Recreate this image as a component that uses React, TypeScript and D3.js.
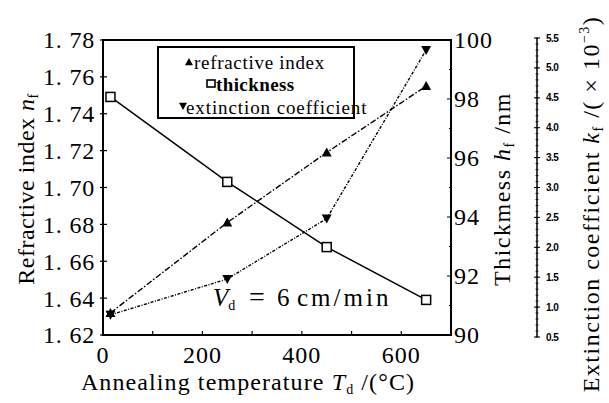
import React from 'react';
import * as d3 from 'd3';

// annealing temperatures (°C)
const temps = [15, 250, 450, 650];
// refractive index n_f
const refractive = [1.632, 1.681, 1.719, 1.755];
// thickness h_f (nm)
const thickness = [98.07, 95.19, 92.98, 91.19];
// extinction coefficient k_f (x10^-3)
const extinction = [0.87, 1.47, 2.48, 5.3];

const xTicks = [0, 200, 400, 600];
const xMinor = [0, 100, 200, 300, 400, 500, 600];
const leftTicks = [1.62, 1.64, 1.66, 1.68, 1.7, 1.72, 1.74, 1.76, 1.78];
const rightTicks = [90, 92, 94, 96, 98, 100];
const extTicks = [0.5, 1.0, 1.5, 2.0, 2.5, 3.0, 3.5, 4.0, 4.5, 5.0, 5.5];

const legendItems = ['refractive index', 'thickness', 'extinction coefficient'];

const serif = { fontFamily: 'Liberation Serif' };
const sans = { fontFamily: 'Liberation Sans' };

const App = () => {
  const width = 609;
  const height = 403;
  const plot = { left: 103, right: 451, top: 40, bottom: 335 };

  const x = d3.scaleLinear().domain([0, 700]).range([plot.left, plot.right]);
  const yL = d3.scaleLinear().domain([1.62, 1.78]).range([plot.bottom, plot.top]);
  const yR = d3.scaleLinear().domain([90, 100]).range([plot.bottom, plot.top]);
  const extX = 537;
  const yE = d3.scaleLinear().domain([0.5, 5.5]).range([337, 38]);

  const lineOf = (vals: number[], y: d3.ScaleLinear<number, number>) =>
    d3.line<number>().x((_, i) => x(temps[i])).y((d) => y(d))(vals) || '';

  const triUp = (cx: number, cy: number, s = 5) =>
    `M${cx},${cy - s}L${cx + s},${cy + s * 0.8}L${cx - s},${cy + s * 0.8}Z`;
  const triDown = (cx: number, cy: number, s = 5) =>
    `M${cx},${cy + s}L${cx + s},${cy - s * 0.8}L${cx - s},${cy - s * 0.8}Z`;

  const extMinor = d3.range(5, 56).map((d) => d / 10);

  return (
    <svg width={width} height={height} style={{ position: 'absolute', left: 0, top: 0, background: '#fff' }}>
      {/* frame */}
      <rect x={plot.left} y={plot.top} width={plot.right - plot.left} height={plot.bottom - plot.top}
        fill="none" stroke="#000" strokeWidth={2} />

      {/* left axis */}
      {leftTicks.map((t) => (
        <g key={t}>
          <line x1={plot.left - 3} x2={plot.left + 4} y1={yL(t)} y2={yL(t)} stroke="#000" strokeWidth={1.2} />
          <text x={plot.left - 8} y={yL(t)} dy="0.35em" textAnchor="end" fontSize={24} letterSpacing={0.8} style={serif}>
            {d3.format('.2f')(t).replace('.', '. ')}
          </text>
        </g>
      ))}

      {/* bottom axis */}
      {xMinor.map((t) => (
        <line key={t} x1={x(t)} x2={x(t)} y1={plot.bottom} y2={plot.bottom - 4} stroke="#000" strokeWidth={1.2} />
      ))}
      {xTicks.map((t) => (
        <text key={t} x={x(t)} y={363} textAnchor="middle" fontSize={24} letterSpacing={1} style={serif}>{t}</text>
      ))}

      {/* right axis */}
      {d3.range(90, 101).map((t) => (
        <line key={t} x1={plot.right} x2={plot.right - (t % 2 === 0 ? 4 : 2)} y1={yR(t)} y2={yR(t)}
          stroke="#000" strokeWidth={1} />
      ))}
      {rightTicks.map((t) => (
        <text key={t} x={plot.right + 3} y={yR(t)} dy="0.35em" fontSize={24} letterSpacing={1} style={serif}>{t}</text>
      ))}

      {/* extinction axis */}
      <line x1={extX} x2={extX} y1={yE(0.5)} y2={yE(5.5)} stroke="#000" strokeWidth={1.5} />
      {extMinor.map((t) => (
        <line key={t} x1={extX - 1.5} x2={extX + 1.5} y1={yE(t)} y2={yE(t)} stroke="#000" strokeWidth={0.8} />
      ))}
      {extTicks.map((t) => (
        <g key={t}>
          <line x1={extX - 3} x2={extX + 3} y1={yE(t)} y2={yE(t)} stroke="#000" strokeWidth={1} />
          <text x={extX + 9} y={yE(t)} dy="0.35em" fontSize={10} fontWeight="bold" letterSpacing={-0.5} style={sans}>
            {d3.format('.1f')(t)}
          </text>
        </g>
      ))}

      {/* axis titles */}
      <text transform="translate(34,189) rotate(-90)" textAnchor="middle" fontSize={24} letterSpacing={0.5} style={serif}>
        Refractive index <tspan fontStyle="italic">n</tspan><tspan fontSize={14} dy={4}>f</tspan>
      </text>
      <text x={248} y={390} textAnchor="middle" fontSize={24} letterSpacing={1.1} style={serif}>
        Annealing temperature <tspan fontStyle="italic">T</tspan><tspan fontSize={14} dy={4}>d</tspan>
        <tspan dy={-4}> /(°C)</tspan>
      </text>
      <text transform="translate(510,189) rotate(-90)" textAnchor="middle" fontSize={24} letterSpacing={1.5} style={serif}>
        Thickmess <tspan fontStyle="italic">h</tspan><tspan fontSize={14} dy={4}>f</tspan><tspan dy={-4}> /nm</tspan>
      </text>
      <text transform="translate(599,204) rotate(-90)" textAnchor="middle" fontSize={24} letterSpacing={1.5} style={serif}>
        Extinction coefficient <tspan fontStyle="italic">k</tspan><tspan fontSize={14} dy={4}>f</tspan>
        <tspan dy={-4}> /( × 10</tspan><tspan fontSize={14} dy={-10}>−3</tspan><tspan dy={10}>)</tspan>
      </text>

      {/* series lines */}
      <path d={lineOf(thickness, yR)} fill="none" stroke="#000" strokeWidth={1.5} />
      <path d={lineOf(refractive, yL)} fill="none" stroke="#000" strokeWidth={1.4} strokeDasharray="6,2,1.5,2" />
      <path d={lineOf(extinction, yE)} fill="none" stroke="#000" strokeWidth={1.4} strokeDasharray="3,1.5,1,1.5" />

      {/* markers */}
      {refractive.map((v, i) => (
        <path key={i} d={triUp(x(temps[i]), yL(v))} fill="#000" />
      ))}
      {extinction.map((v, i) => (
        <path key={i} d={triDown(x(temps[i]), yE(v))} fill="#000" />
      ))}
      {thickness.map((v, i) => (
        <rect key={i} x={x(temps[i]) - 4.5} y={yR(v) - 4.5} width={9} height={9} fill="#fff" stroke="#000" strokeWidth={1.5} />
      ))}

      {/* legend */}
      <rect x={158} y={47} width={196} height={71} fill="#fff" stroke="#000" strokeWidth={2} />
      <path d={triUp(189, 62, 4)} fill="#000" />
      <text x={194} y={62} dy="0.35em" fontSize={19} letterSpacing={0.7} style={serif}>{legendItems[0]}</text>
      <rect x={207} y={80} width={8} height={7} fill="#fff" stroke="#000" strokeWidth={1.6} />
      <text x={216} y={84} dy="0.35em" fontSize={19} fontWeight="bold" letterSpacing={0.4} style={serif}>{legendItems[1]}</text>
      <path d={triDown(183, 106, 4)} fill="#000" />
      <text x={186} y={107} dy="0.35em" fontSize={19} letterSpacing={0.9} style={serif}>{legendItems[2]}</text>

      {/* annotation */}
      <text y={306} fontSize={25} style={serif}>
        <tspan x={213} fontStyle="italic">V</tspan><tspan fontSize={14} dy={4}>d</tspan>
        <tspan x={249} dy={-4} fontSize={28}>=</tspan>
        <tspan x={277}>6</tspan>
        <tspan x={297} letterSpacing={3}>cm/min</tspan>
      </text>
    </svg>
  );
};

export default App;
